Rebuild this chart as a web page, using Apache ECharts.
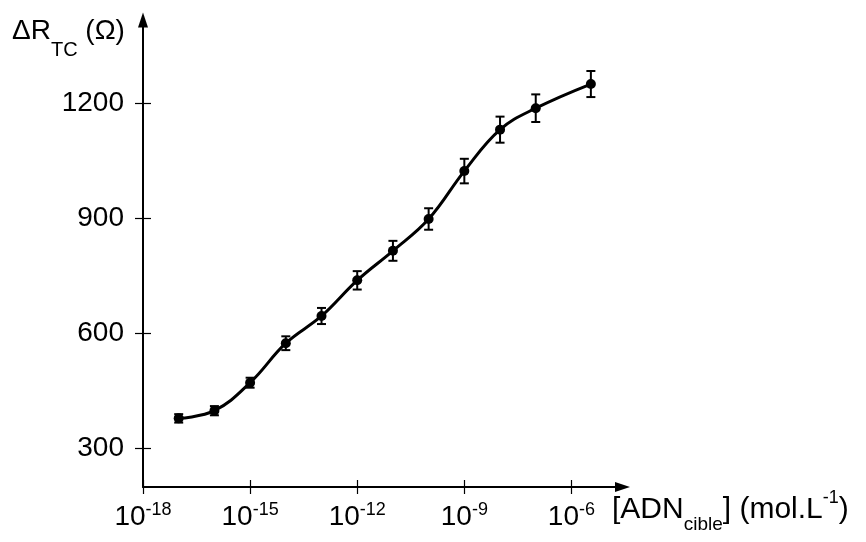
<!DOCTYPE html>
<html>
<head>
<meta charset="utf-8">
<script src="https://cdn.jsdelivr.net/npm/echarts@6/dist/echarts.min.js"></script>
<style>
html,body{margin:0;padding:0;background:#fff;}
#chart{width:866px;height:542px;}
</style>
</head>
<body>
<div id="chart"></div>
<script>
// ---- data ----
const concentration = [1e-17, 1e-16, 1e-15, 1e-14, 1e-13, 1e-12, 1e-11, 1e-10, 1e-9, 1e-8, 1e-7, 3.5e-6]; // mol/L
const deltaR = [379, 399, 472, 575, 646, 739, 816, 899, 1024, 1132, 1188, 1251]; // ohm
const errorR = [11, 12, 13, 18, 21, 24, 26, 28, 32, 34, 36, 34];
const xTickExponents = [-18, -15, -12, -9, -6];
const yTicks = [300, 600, 900, 1200];
const yAxisName = '{a|\u0394R}{b|TC}{a| (\u03A9)}';
const xAxisName = '{m|[ADN}{u|cible}{m|] (mol.L}{p|-1}{m|)}';

const FONT = "'Liberation Sans', Arial, Helvetica, sans-serif";
const lineData = concentration.map((c, i) => [Math.log10(c), deltaR[i]]);
const errData = concentration.map((c, i) => [Math.log10(c), deltaR[i], errorR[i]]);

const chart = echarts.init(document.getElementById('chart'), null, {renderer: 'canvas'});

const xBase = {
  type: 'value', min: -18, max: -4.57, position: 'bottom',
  splitLine: {show: false}
};
const yBase = {
  type: 'value', min: 200, max: 1418, position: 'left',
  splitLine: {show: false}
};

chart.setOption({
  backgroundColor: '#fff',
  animation: false,
  grid: {left: 143, right: 243.5, top: 20, bottom: 55, containLabel: false},
  xAxis: [
    Object.assign({}, xBase, {
      axisLine: {show: true, lineStyle: {color: '#000', width: 2}, symbol: ['none', 'triangle'], symbolSize: [10, 15]},
      axisTick: {show: true, inside: false, length: 7, customValues: xTickExponents, lineStyle: {color: '#000', width: 1.2}},
      axisLabel: {
        show: true, customValues: xTickExponents, margin: 8, color: '#000',
        fontFamily: FONT,
        formatter: v => '{b|10}{s|' + v + '}',
        rich: {
          b: {fontSize: 28, fontFamily: FONT, color: '#000', verticalAlign: 'top', padding: [8, 0, 0, 0]},
          s: {fontSize: 18, fontFamily: FONT, color: '#000', verticalAlign: 'top', padding: [6, 0, 0, 0]}
        }
      }
    }),
    Object.assign({}, xBase, {
      axisLine: {show: false},
      axisTick: {show: true, inside: true, length: 7, customValues: xTickExponents, lineStyle: {color: '#000', width: 1.2}},
      axisLabel: {show: false}
    })
  ],
  yAxis: [
    Object.assign({}, yBase, {
      axisLine: {show: true, lineStyle: {color: '#000', width: 2}, symbol: ['none', 'triangle'], symbolSize: [10, 15]},
      axisTick: {show: true, inside: false, length: 8, customValues: yTicks, lineStyle: {color: '#000', width: 1.2}},
      axisLabel: {show: true, customValues: yTicks, margin: 19, color: '#000', fontSize: 28, fontFamily: FONT,
        formatter: v => String(v)}
    }),
    Object.assign({}, yBase, {
      axisLine: {show: false},
      axisTick: {show: true, inside: true, length: 8, customValues: yTicks, lineStyle: {color: '#000', width: 1.2}},
      axisLabel: {show: false}
    })
  ],
  graphic: [
    {
      type: 'text', left: 12, top: 17,
      style: {
        text: yAxisName, verticalAlign: 'top', fill: '#000', font: '28px ' + FONT,
        rich: {
          a: {fontSize: 28, fontFamily: FONT, fill: '#000', verticalAlign: 'top'},
          b: {fontSize: 20, fontFamily: FONT, fill: '#000', verticalAlign: 'top', padding: [23, 0, 0, 0]}
        }
      }
    },
    {
      type: 'text', left: 612, top: 489,
      style: {
        text: xAxisName, verticalAlign: 'top', fill: '#000', font: '30px ' + FONT,
        rich: {
          m: {fontSize: 30, fontFamily: FONT, fill: '#000', verticalAlign: 'top', padding: [12, 0, 0, 0]},
          u: {fontSize: 19, fontFamily: FONT, fill: '#000', verticalAlign: 'top', padding: [32, 0, 0, 0]},
          p: {fontSize: 18, fontFamily: FONT, fill: '#000', verticalAlign: 'top', padding: [6, 0, 0, 0]}
        }
      }
    }
  ],
  series: [
    {
      type: 'line', xAxisIndex: 0, yAxisIndex: 0,
      data: lineData, smooth: 0.4,
      symbol: 'circle', symbolSize: 10,
      lineStyle: {color: '#000', width: 3},
      itemStyle: {color: '#000'},
      z: 3
    },
    {
      type: 'custom', xAxisIndex: 0, yAxisIndex: 0,
      data: errData, encode: {x: 0, y: 1},
      renderItem: function (params, api) {
        const x = api.value(0), y = api.value(1), e = api.value(2);
        const top = api.coord([x, y + e]);
        const bot = api.coord([x, y - e]);
        const w = 4.5;
        const st = {stroke: '#000', lineWidth: 2};
        return {
          type: 'group',
          children: [
            {type: 'line', shape: {x1: top[0], y1: top[1], x2: bot[0], y2: bot[1]}, style: st},
            {type: 'line', shape: {x1: top[0] - w, y1: top[1], x2: top[0] + w, y2: top[1]}, style: st},
            {type: 'line', shape: {x1: bot[0] - w, y1: bot[1], x2: bot[0] + w, y2: bot[1]}, style: st}
          ]
        };
      },
      z: 4
    }
  ]
});
</script>
</body>
</html>
